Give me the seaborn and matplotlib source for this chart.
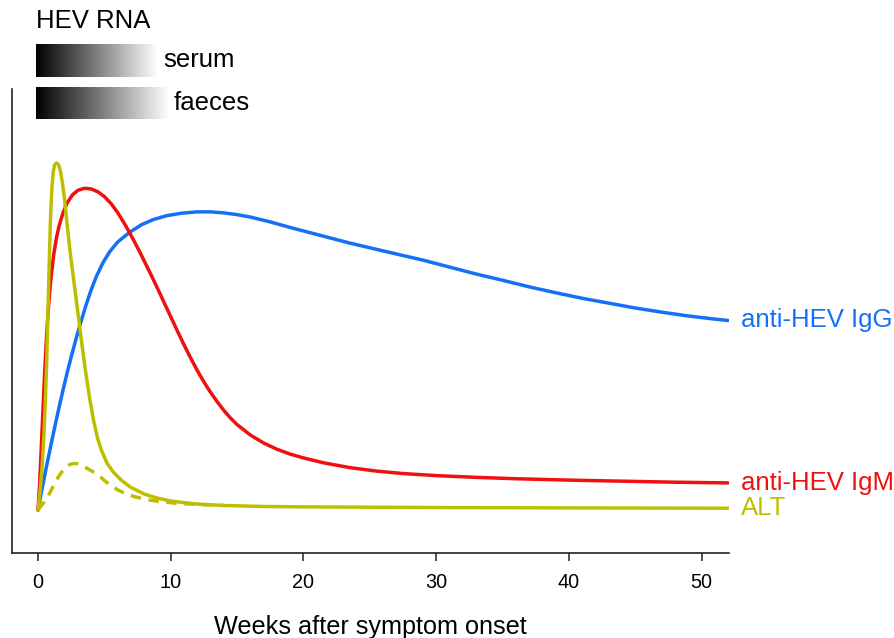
import numpy as np
import pandas as pd
import matplotlib
matplotlib.use("Agg")
import matplotlib.pyplot as plt
import seaborn as sns

# ---- data ----
igg_weeks = [0, 0.3, 0.6, 1.0, 1.3, 1.6, 1.9, 2.2, 2.5, 2.9, 3.2, 3.6, 4.0, 4.4, 4.9, 5.4,
             6.0, 6.9, 7.8, 8.7, 9.7, 10.8, 12.0, 13.0, 14.0, 15.0, 16.0, 17.5, 19.0, 20.5,
             22.0, 23.5, 25.5, 27.3, 29, 31, 33, 35, 37, 39, 41, 43, 45, 47, 49, 51, 52]
igg_values = [0, 6, 11.8, 19.2, 24.6, 29.8, 34.8, 39.6, 44.1, 49.8, 53.8, 58.8, 63.4, 67.3,
              71.3, 74.4, 77.2, 80.0, 82.2, 83.7, 84.8, 85.5, 85.9, 85.9, 85.6, 85.1, 84.4,
              83.0, 81.4, 79.9, 78.4, 76.9, 75.1, 73.5, 72, 70, 68, 66.2, 64.3, 62.6, 61,
              59.6, 58.2, 57, 55.9, 55, 54.6]

igm_weeks = [0, 0.1, 0.2, 0.3, 0.4, 0.5, 0.6, 0.7, 0.8, 0.9, 1.0, 1.2, 1.4, 1.6, 1.9, 2.2,
             2.6, 3.0, 3.5, 4.0, 4.5, 5.0, 5.5, 6.0, 6.5, 7.0, 7.5, 8.0, 8.5, 9.0, 9.5, 10.0,
             10.5, 11.0, 11.5, 12.0, 12.5, 13.0, 13.5, 14.0, 14.5, 15.0, 16, 17, 18, 19, 20,
             21.5, 23.5, 25.5, 27.5, 30, 33, 36, 40, 44, 48, 52]
igm_values = [0, 6, 14, 22.5, 31, 39.5, 47, 53.5, 59, 63.7, 67.7, 74, 78.6, 82, 85.8, 88.5,
              90.8, 92.1, 92.7, 92.5, 91.7, 90.3, 88.3, 85.7, 82.6, 79.2, 75.6, 71.8, 67.9,
              63.9, 59.8, 55.7, 51.6, 47.6, 43.8, 40.2, 36.9, 33.9, 31.2, 28.7, 26.5, 24.6,
              21.6, 19.3, 17.5, 16.1, 15.0, 13.6, 12.2, 11.2, 10.5, 9.9, 9.4, 9.0, 8.6, 8.3,
              8.0, 7.8]

alt_weeks = [0, 0.15, 0.3, 0.45, 0.55, 0.65, 0.75, 0.85, 0.95, 1.05, 1.15, 1.25, 1.4, 1.55,
             1.7, 1.85, 2.0, 2.2, 2.4, 2.7, 3.0, 3.3, 3.6, 3.9, 4.2, 4.5, 4.8, 5.2, 5.7, 6.3,
             7.0, 8.0, 9.0, 10, 11, 12, 14, 17, 20, 25, 30, 40, 52]
alt_values = [0, 5, 12, 22, 31, 42, 57, 72, 85, 93, 97.5, 99.5, 100, 99.5,
              97.5, 94, 89.5, 82, 75, 66, 57, 48, 39.5, 32, 25.5, 20.5, 17, 13.5, 10.8, 8.5,
              6.5, 4.6, 3.4, 2.6, 2.1, 1.7, 1.3, 1.0, 0.9, 0.8, 0.7, 0.6, 0.5]

alt_sub_weeks = [0, 0.3, 0.6, 0.9, 1.2, 1.5, 1.8, 2.1, 2.4, 2.7, 3.0, 3.3, 3.7, 4.1, 4.5,
                 5.0, 5.5, 6.0, 6.6, 7.3, 8.2, 9.2, 10.5, 12, 14]
alt_sub_values = [0, 1.5, 3, 5, 7.3, 9.3, 11, 12.3, 13.1, 13.4, 13.3, 12.9, 12, 11.1, 10.2,
                  8.5, 7.0, 5.8, 4.7, 3.8, 3.0, 2.4, 1.9, 1.6, 1.3]

series_labels = ["anti-HEV IgG", "anti-HEV IgM", "ALT"]
series_colors = ["#1570f5", "#f01010", "#bebe00"]

rna_labels = ["serum", "faeces"]
rna_end_weeks = [9.0, 9.8]

x_ticks = [0, 10, 20, 30, 40, 50]
x_label = "Weeks after symptom onset"
rna_title = "HEV RNA"

# ---- figure ----
sns.set_style("white")
plt.rcParams["font.family"] = ["Liberation Sans", "DejaVu Sans"]
plt.rcParams["text.color"] = "black"
plt.rcParams["xtick.color"] = "black"

W, H = 895, 638
fig = plt.figure(figsize=(W / 100, H / 100), dpi=100)
ax = fig.add_axes([12 / W, 1 - 553 / H, (729 - 12) / W, (553 - 89) / H])

lw = 2.5
sns.lineplot(x=igg_weeks, y=igg_values, ax=ax, color=series_colors[0], linewidth=lw,
             estimator=None, sort=False)
sns.lineplot(x=igm_weeks, y=igm_values, ax=ax, color=series_colors[1], linewidth=lw,
             estimator=None, sort=False)
sns.lineplot(x=alt_sub_weeks, y=alt_sub_values, ax=ax, color=series_colors[2], linewidth=lw,
             estimator=None, sort=False)
ax.lines[-1].set_linestyle((0, (3.0, 2.2)))
sns.lineplot(x=alt_weeks, y=alt_values, ax=ax, color=series_colors[2], linewidth=lw,
             estimator=None, sort=False)
for ln in ax.lines:
    ln.set_solid_joinstyle("round")
    ln.set_solid_capstyle("round")
    ln.set_dash_capstyle("butt")

# end labels
ends = [(igg_weeks[-1], igg_values[-1]), (igm_weeks[-1], igm_values[-1]), (alt_weeks[-1], alt_values[-1])]
for (xe, ye), lab, col in zip(ends, series_labels, series_colors):
    ax.annotate(lab, xy=(xe, ye), xytext=(9, 0), textcoords="offset points",
                color=col, fontsize=18.5, va="center", ha="left", annotation_clip=False)

# HEV RNA gradient bars
grad = np.linspace(0, 1, 512).reshape(1, -1)
bar_y = [(124.8, 134.3), (112.7, 121.9)]
for (y0, y1), xe, lab in zip(bar_y, rna_end_weeks, rna_labels):
    im = ax.imshow(grad, cmap="gray", extent=[-0.15, xe, y0, y1], aspect="auto",
                   interpolation="bilinear", zorder=3)
    im.set_clip_on(False)
    ax.annotate(lab, xy=(xe, (y0 + y1) / 2), xytext=(4, 0), textcoords="offset points",
                fontsize=18.5, va="center", ha="left", annotation_clip=False)
ax.annotate(rna_title, xy=(-0.15, 139.0), fontsize=18.5, va="baseline", ha="left",
            annotation_clip=False)

ax.set_xlim(-1.96, 52.07)
ax.set_ylim(-12.4, 121.3)
ax.set_xticks(x_ticks)
ax.set_xticklabels([str(t) for t in x_ticks], fontsize=14.3)
ax.set_yticks([])
ax.tick_params(axis="x", length=5.5, width=1.1, pad=9, color="#222222", bottom=True)
for s in ["top", "right"]:
    ax.spines[s].set_visible(False)
for s in ["left", "bottom"]:
    ax.spines[s].set_linewidth(1.2)
    ax.spines[s].set_color("#222222")
ax.set_xlabel("")
ax.set_ylabel("")
fig.text((12 + 729) / 2 / W, (H - 634.3) / H, x_label, fontsize=18.2, ha="center", va="baseline")

fig.savefig("out.png", dpi=100)
